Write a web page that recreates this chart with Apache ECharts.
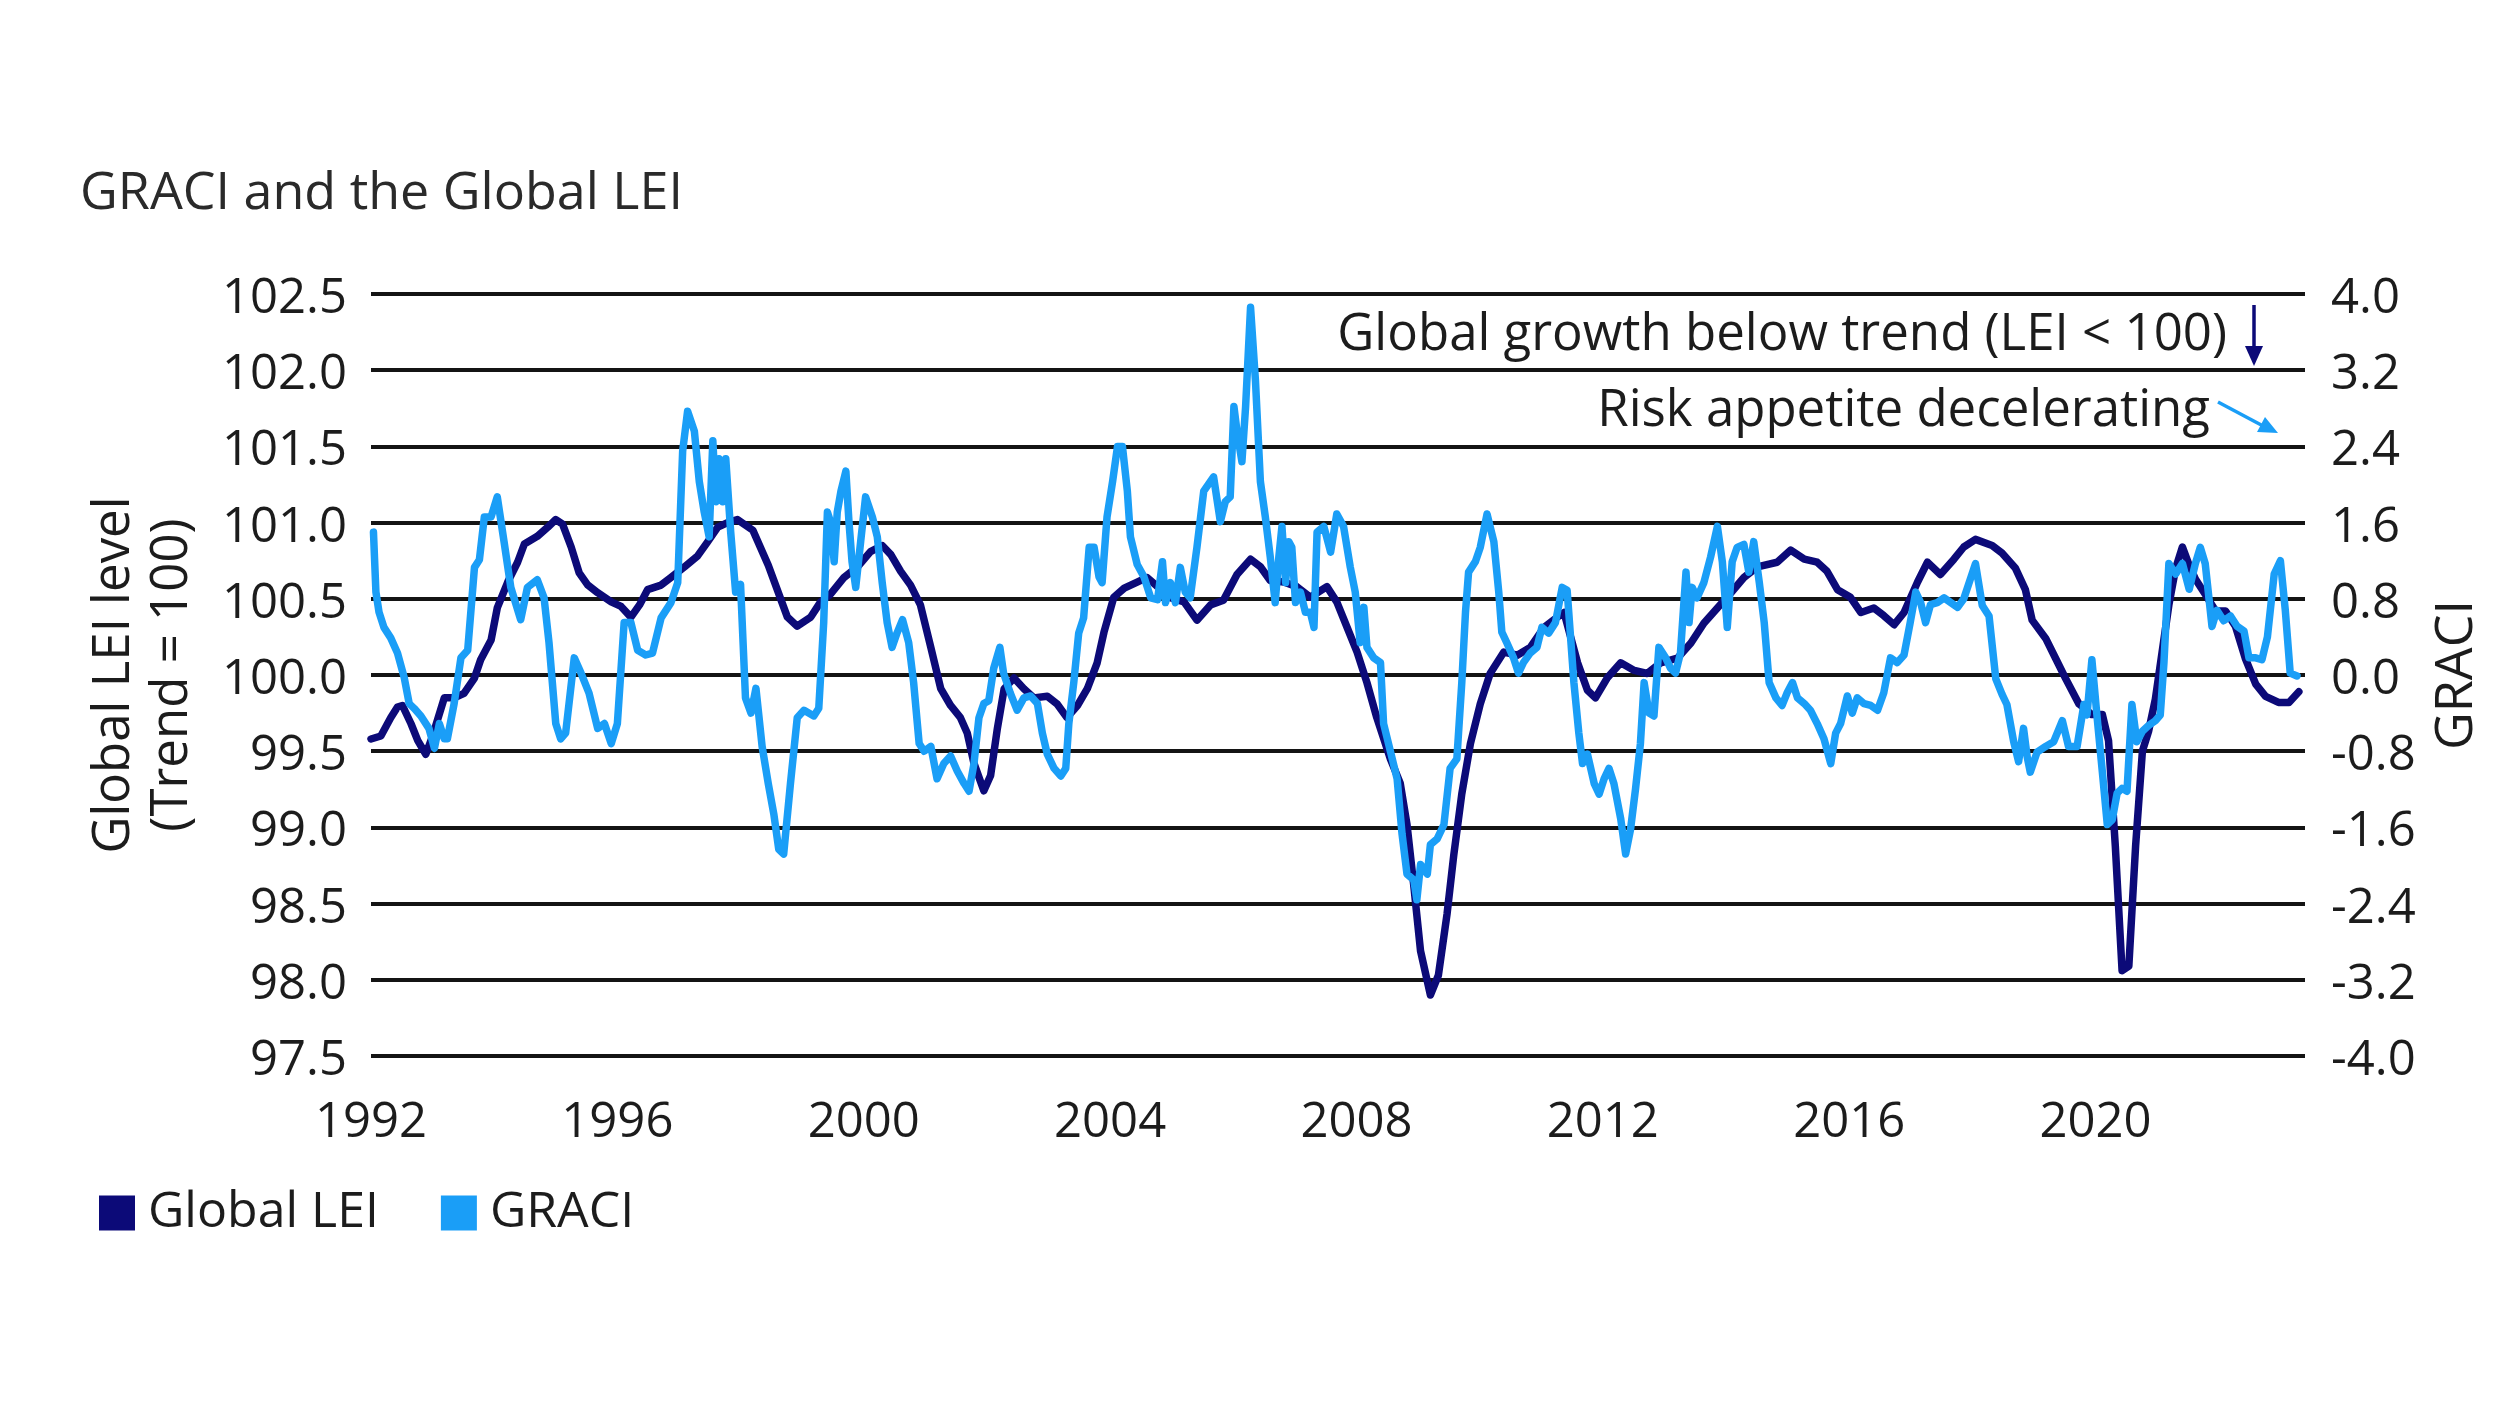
<!DOCTYPE html>
<html><head><meta charset="utf-8">
<script src="https://cdn.jsdelivr.net/npm/echarts@6/dist/echarts.min.js"></script>
<style>html,body{margin:0;padding:0;background:#fff}#c{width:2496px;height:1404px}</style>
</head><body><div id="c"></div>
<script>
// ---- Data (decimal year, value) ----
const seriesNames = ['Global LEI', 'GRACI'];
const xTickYears = [1992, 1996, 2000, 2004, 2008, 2012, 2016, 2020];

const leiPoints = [
[1992.0,99.58],[1992.16,99.60],[1992.32,99.72],[1992.43,99.79],[1992.51,99.80],[1992.65,99.68],[1992.76,99.57],[1992.89,99.48],
[1993.0,99.60],[1993.19,99.85],[1993.35,99.85],[1993.51,99.88],[1993.68,99.98],[1993.78,100.10],[1993.95,100.23],
[1994.05,100.44],[1994.22,100.61],[1994.38,100.74],[1994.49,100.86],[1994.7,100.91],[1994.87,100.97],
[1995.0,101.02],[1995.11,100.99],[1995.25,100.84],[1995.38,100.67],[1995.52,100.59],[1995.68,100.54],[1995.9,100.48],
[1996.06,100.45],[1996.22,100.38],[1996.36,100.46],[1996.49,100.56],[1996.71,100.59],[1996.87,100.64],
[1997.09,100.71],[1997.3,100.78],[1997.46,100.87],[1997.63,100.97],[1997.79,101.0],[1997.95,101.02],
[1998.2,100.95],[1998.45,100.72],[1998.76,100.38],[1998.92,100.32],
[1999.14,100.38],[1999.3,100.48],[1999.46,100.53],[1999.68,100.64],[1999.9,100.71],
[2000.11,100.81],[2000.3,100.85],[2000.44,100.79],[2000.6,100.68],[2000.76,100.59],[2000.92,100.46],
[2001.09,100.18],[2001.25,99.91],[2001.41,99.80],[2001.57,99.72],[2001.68,99.62],[2001.79,99.42],[2001.95,99.24],
[2002.06,99.34],[2002.17,99.65],[2002.28,99.91],[2002.44,99.98],[2002.6,99.91],[2002.76,99.85],[2002.98,99.86],
[2003.14,99.81],[2003.3,99.72],[2003.47,99.80],[2003.63,99.91],[2003.79,100.08],[2003.9,100.28],
[2004.06,100.51],[2004.23,100.57],[2004.44,100.61],[2004.6,100.64],[2004.77,100.58],[2004.95,100.51],
[2005.2,100.48],[2005.41,100.36],[2005.63,100.46],[2005.84,100.49],
[2006.06,100.66],[2006.28,100.76],[2006.44,100.71],[2006.6,100.62],[2006.82,100.61],
[2007.03,100.58],[2007.25,100.51],[2007.52,100.58],[2007.68,100.48],[2007.85,100.31],
[2008.01,100.15],[2008.17,99.95],[2008.33,99.72],[2008.55,99.45],[2008.71,99.29],[2008.82,99.02],[2008.93,98.62],
[2009.04,98.19],[2009.2,97.90],[2009.33,98.03],[2009.47,98.43],[2009.58,98.82],[2009.71,99.22],[2009.85,99.55],
[2010.01,99.81],[2010.17,100.01],[2010.39,100.15],[2010.61,100.13],[2010.82,100.18],
[2011.04,100.31],[2011.26,100.38],[2011.37,100.41],[2011.59,100.08],[2011.75,99.90],[2011.88,99.85],
[2012.07,99.98],[2012.29,100.08],[2012.51,100.03],[2012.72,100.01],[2012.94,100.08],
[2013.21,100.11],[2013.43,100.21],[2013.64,100.34],[2013.86,100.44],
[2014.08,100.54],[2014.29,100.64],[2014.51,100.71],[2014.83,100.74],
[2015.05,100.82],[2015.27,100.76],[2015.48,100.74],[2015.64,100.68],[2015.81,100.56],
[2016.02,100.51],[2016.19,100.41],[2016.4,100.44],[2016.56,100.39],[2016.73,100.33],[2016.89,100.41],
[2017.11,100.61],[2017.27,100.74],[2017.48,100.66],[2017.7,100.76],[2017.86,100.84],
[2018.05,100.89],[2018.32,100.85],[2018.48,100.80],[2018.7,100.70],[2018.86,100.56],[2018.97,100.36],
[2019.19,100.24],[2019.35,100.11],[2019.51,99.98],[2019.73,99.81],[2019.94,99.74],
[2020.11,99.74],[2020.21,99.57],[2020.32,98.88],[2020.43,98.06],[2020.54,98.09],[2020.65,98.88],[2020.76,99.50],[2020.86,99.63],[2020.97,99.84],
[2021.08,100.15],[2021.19,100.46],[2021.3,100.70],[2021.41,100.84],[2021.52,100.72],[2021.62,100.63],[2021.78,100.53],[2021.95,100.42],
[2022.11,100.42],[2022.27,100.32],[2022.43,100.11],[2022.6,99.94],[2022.76,99.86],[2022.97,99.82],
[2023.14,99.82],[2023.3,99.89]
];

const graciPoints = [
[1992.04,1.50],[1992.08,0.87],[1992.13,0.66],[1992.21,0.50],[1992.32,0.39],[1992.43,0.23],[1992.54,-0.03],[1992.62,-0.30],[1992.7,-0.35],[1992.81,-0.43],[1992.94,-0.56],
[1993.03,-0.77],[1993.11,-0.51],[1993.19,-0.67],[1993.24,-0.67],[1993.35,-0.30],[1993.46,0.18],[1993.57,0.26],[1993.68,1.13],[1993.76,1.21],[1993.84,1.66],[1993.95,1.66],
[1994.05,1.87],[1994.16,1.40],[1994.27,0.92],[1994.43,0.58],[1994.54,0.92],[1994.7,1.0],[1994.81,0.81],[1994.89,0.34],
[1995.0,-0.51],[1995.08,-0.67],[1995.16,-0.61],[1995.3,0.18],[1995.41,0.02],[1995.54,-0.19],[1995.68,-0.56],[1995.79,-0.51],[1995.9,-0.72],
[1996.0,-0.51],[1996.11,0.55],[1996.22,0.55],[1996.33,0.26],[1996.46,0.21],[1996.57,0.23],[1996.71,0.60],[1996.87,0.76],[1996.98,0.97],
[1997.06,2.35],[1997.14,2.77],[1997.25,2.56],[1997.33,2.03],[1997.41,1.71],[1997.49,1.45],[1997.55,2.46],[1997.6,1.82],[1997.65,2.27],[1997.71,1.82],[1997.76,2.27],[1997.84,1.50],[1997.92,0.87],
[1998.0,0.95],[1998.08,-0.24],[1998.17,-0.40],[1998.25,-0.14],[1998.35,-0.75],[1998.45,-1.14],[1998.54,-1.46],[1998.62,-1.83],[1998.7,-1.88],[1998.81,-1.14],[1998.92,-0.45],
[1999.03,-0.37],[1999.19,-0.43],[1999.27,-0.35],[1999.35,0.55],[1999.41,1.71],[1999.46,1.61],[1999.52,1.19],[1999.57,1.71],[1999.63,1.93],[1999.71,2.14],[1999.76,1.61],[1999.81,1.19],[1999.87,0.92],[1999.95,1.40],
[2000.03,1.87],[2000.14,1.66],[2000.22,1.45],[2000.3,0.97],[2000.38,0.55],[2000.46,0.29],[2000.54,0.44],[2000.63,0.58],[2000.73,0.34],[2000.81,-0.08],[2000.9,-0.72],[2000.98,-0.80],
[2001.09,-0.75],[2001.19,-1.09],[2001.3,-0.93],[2001.41,-0.85],[2001.52,-1.01],[2001.63,-1.14],[2001.71,-1.22],[2001.79,-0.93],[2001.87,-0.45],[2001.95,-0.30],
[2002.03,-0.27],[2002.11,0.07],[2002.21,0.29],[2002.27,0.02],[2002.38,-0.19],[2002.49,-0.37],[2002.6,-0.24],[2002.71,-0.22],[2002.82,-0.30],[2002.9,-0.61],[2002.98,-0.83],
[2003.09,-0.98],[2003.2,-1.06],[2003.28,-0.98],[2003.33,-0.51],[2003.41,-0.08],[2003.49,0.44],[2003.57,0.60],[2003.66,1.34],[2003.74,1.34],[2003.82,1.03],[2003.87,0.97],[2003.95,1.66],
[2004.04,2.03],[2004.12,2.40],[2004.2,2.40],[2004.28,1.93],[2004.33,1.45],[2004.44,1.16],[2004.55,1.03],[2004.66,0.81],[2004.77,0.79],[2004.85,1.19],[2004.9,0.76],[2004.98,0.97],
[2005.06,0.76],[2005.14,1.13],[2005.22,0.87],[2005.3,0.81],[2005.41,1.34],[2005.52,1.93],[2005.68,2.08],[2005.79,1.61],[2005.87,1.82],[2005.95,1.87],
[2006.01,2.82],[2006.06,2.56],[2006.14,2.24],[2006.2,2.82],[2006.28,3.86],[2006.36,3.09],[2006.44,2.03],[2006.52,1.66],[2006.6,1.24],[2006.68,0.76],[2006.74,1.24],[2006.79,1.56],[2006.85,0.97],[2006.9,1.40],[2006.95,1.34],
[2007.01,0.76],[2007.09,0.87],[2007.17,0.66],[2007.25,0.66],[2007.31,0.50],[2007.36,1.50],[2007.47,1.56],[2007.58,1.29],[2007.68,1.69],[2007.79,1.56],[2007.9,1.13],[2007.98,0.87],
[2008.06,0.34],[2008.12,0.71],[2008.17,0.29],[2008.28,0.18],[2008.39,0.13],[2008.44,-0.51],[2008.55,-0.80],[2008.66,-1.09],[2008.74,-1.67],[2008.82,-2.09],[2008.93,-2.15],[2008.98,-2.36],
[2009.04,-1.99],[2009.15,-2.09],[2009.2,-1.78],[2009.31,-1.72],[2009.42,-1.57],[2009.52,-0.98],[2009.63,-0.88],[2009.71,-0.08],[2009.77,0.66],[2009.82,1.08],[2009.93,1.19],
[2010.01,1.34],[2010.12,1.69],[2010.23,1.40],[2010.31,0.87],[2010.36,0.45],[2010.44,0.34],[2010.55,0.18],[2010.63,0.02],[2010.71,0.13],[2010.82,0.23],[2010.93,0.29],
[2011.01,0.50],[2011.12,0.44],[2011.23,0.55],[2011.34,0.92],[2011.42,0.89],[2011.53,-0.08],[2011.61,-0.61],[2011.67,-0.93],[2011.75,-0.83],[2011.86,-1.14],[2011.94,-1.25],
[2012.02,-1.09],[2012.1,-0.98],[2012.18,-1.14],[2012.29,-1.51],[2012.37,-1.88],[2012.45,-1.62],[2012.53,-1.20],[2012.61,-0.72],[2012.67,-0.08],[2012.75,-0.40],[2012.83,-0.43],[2012.91,0.29],
[2013.02,0.18],[2013.1,0.07],[2013.18,0.02],[2013.26,0.23],[2013.35,1.08],[2013.4,0.55],[2013.45,0.92],[2013.53,0.81],[2013.64,0.97],[2013.75,1.24],[2013.86,1.56],[2013.94,1.19],
[2014.02,0.50],[2014.1,1.19],[2014.18,1.34],[2014.29,1.37],[2014.37,1.08],[2014.45,1.40],[2014.54,0.97],[2014.62,0.55],[2014.7,-0.08],[2014.81,-0.24],[2014.91,-0.32],[2014.99,-0.19],
[2015.08,-0.08],[2015.16,-0.24],[2015.27,-0.30],[2015.37,-0.37],[2015.48,-0.51],[2015.59,-0.67],[2015.7,-0.93],[2015.78,-0.61],[2015.86,-0.51],[2015.97,-0.22],
[2016.05,-0.40],[2016.13,-0.24],[2016.24,-0.30],[2016.35,-0.32],[2016.46,-0.37],[2016.56,-0.19],[2016.67,0.18],[2016.78,0.13],[2016.89,0.21],[2016.99,0.55],
[2017.08,0.87],[2017.16,0.76],[2017.24,0.55],[2017.32,0.74],[2017.43,0.76],[2017.54,0.81],[2017.65,0.76],[2017.76,0.71],[2017.86,0.80],
[2018.05,1.17],[2018.16,0.73],[2018.27,0.62],[2018.38,-0.04],[2018.48,-0.20],[2018.56,-0.31],[2018.67,-0.70],[2018.75,-0.91],[2018.83,-0.56],[2018.89,-0.86],[2018.94,-1.02],
[2019.05,-0.81],[2019.19,-0.75],[2019.32,-0.70],[2019.46,-0.48],[2019.56,-0.75],[2019.7,-0.75],[2019.81,-0.31],[2019.86,-0.42],[2019.94,0.16],
[2020.03,-0.48],[2020.11,-1.02],[2020.19,-1.57],[2020.27,-1.52],[2020.35,-1.24],[2020.43,-1.19],[2020.51,-1.22],[2020.59,-0.31],[2020.67,-0.70],[2020.76,-0.59],[2020.86,-0.53],[2020.97,-0.48],
[2021.05,-0.42],[2021.11,0.13],[2021.19,1.17],[2021.3,1.06],[2021.41,1.17],[2021.52,0.90],[2021.62,1.17],[2021.7,1.34],[2021.78,1.17],[2021.89,0.51],[2021.97,0.68],
[2022.08,0.57],[2022.19,0.62],[2022.3,0.51],[2022.41,0.46],[2022.49,0.18],[2022.6,0.18],[2022.7,0.16],[2022.79,0.40],[2022.9,1.06],
[2023.0,1.20],[2023.08,0.68],[2023.16,0.02],[2023.27,-0.01]
];

const leftAxis = {min: 97.5, max: 102.5, step: 0.5};
const rightAxis = {min: -4.0, max: 4.0, step: 0.8};
const xRange = {min: 1992, max: 2023.4, step: 4};

// ---- Styling ----
const FONT = '"Open Sans"';
const NAVY = '#0c0a78';
const LIGHT = '#1a9ef7';
const TXT = '#1c1c1c';

const chart = echarts.init(document.getElementById('c'), null, {renderer: 'canvas'});
const fmt1 = v => (Math.abs(v) < 1e-9 ? 0 : v).toFixed(1);

chart.setOption({
  animation: false,
  backgroundColor: '#ffffff',
  textStyle: {fontFamily: FONT},
  grid: {left: 371, right: 191, top: 294, bottom: 348, containLabel: false},
  legend: {
    left: 94, top: 1183,
    itemWidth: 36, itemHeight: 35, itemGap: 62,
    icon: 'rect',
    data: seriesNames,
    textStyle: {fontFamily: FONT, fontSize: 50, color: TXT, padding: [0, 0, 0, 8]}
  },
  xAxis: {
    type: 'value', min: xRange.min, max: xRange.max, interval: xRange.step,
    axisLine: {show: false}, axisTick: {show: false}, splitLine: {show: false},
    axisLabel: {
      fontFamily: FONT, fontSize: 49, color: TXT, margin: 43,
      showMaxLabel: false,
      formatter: v => (xTickYears.indexOf(Math.round(v)) >= 0 ? String(Math.round(v)) : '')
    }
  },
  yAxis: [
    {
      type: 'value', min: leftAxis.min, max: leftAxis.max, interval: leftAxis.step,
      position: 'left',
      axisLine: {show: false}, axisTick: {show: false},
      splitLine: {show: true, lineStyle: {color: '#141414', width: 4}},
      axisLabel: {fontFamily: FONT, fontSize: 49, color: TXT, margin: 24, verticalAlign: 'top', lineHeight: 10, formatter: fmt1},
      name: 'Global LEI level\n(Trend = 100)',
      nameLocation: 'middle', nameRotate: 90, nameGap: 170,
      nameTextStyle: {fontFamily: FONT, fontSize: 51, color: TXT, lineHeight: 58, align: 'center'}
    },
    {
      type: 'value', min: rightAxis.min, max: rightAxis.max, interval: rightAxis.step,
      position: 'right',
      axisLine: {show: false}, axisTick: {show: false}, splitLine: {show: false},
      axisLabel: {fontFamily: FONT, fontSize: 49, color: TXT, margin: 26, verticalAlign: 'top', lineHeight: 10, formatter: fmt1},
      name: 'GRACI',
      nameLocation: 'middle', nameRotate: 90, nameGap: 126,
      nameTextStyle: {fontFamily: FONT, fontSize: 52, color: TXT}
    }
  ],
  series: [
    {
      name: seriesNames[0], type: 'line', yAxisIndex: 0,
      data: leiPoints, showSymbol: false, symbol: 'none',
      color: NAVY,
      lineStyle: {color: NAVY, width: 7.5, join: 'round', cap: 'round'},
      z: 2
    },
    {
      name: seriesNames[1], type: 'line', yAxisIndex: 1,
      data: graciPoints, showSymbol: false, symbol: 'none',
      color: LIGHT,
      lineStyle: {color: LIGHT, width: 7.5, join: 'round', cap: 'round'},
      z: 3
    }
  ],
  graphic: [
    {type: 'text', left: 80, top: 168, style: {text: 'GRACI and the Global LEI', font: '52px ' + FONT, fill: '#2a2a2a'}},
    {type: 'text', z: 10, style: {x: 2227, y: 335, text: 'Global growth below trend (LEI < 100)', font: '51px ' + FONT, fill: TXT, textAlign: 'right', textVerticalAlign: 'middle'}},
    {type: 'text', z: 10, style: {x: 2210, y: 411, text: 'Risk appetite decelerating', font: '51px ' + FONT, fill: TXT, textAlign: 'right', textVerticalAlign: 'middle'}},
    {type: 'line', z: 10, shape: {x1: 2254, y1: 305, x2: 2254, y2: 352}, style: {stroke: NAVY, lineWidth: 3.5}},
    {type: 'polygon', z: 10, shape: {points: [[2245, 346], [2263, 346], [2254, 366]]}, style: {fill: NAVY}},
    {type: 'line', z: 10, shape: {x1: 2218, y1: 402, x2: 2265, y2: 427}, style: {stroke: LIGHT, lineWidth: 3.5}},
    {type: 'polygon', z: 10, shape: {points: [[2257, 432], [2265, 417], [2278, 433]]}, style: {fill: LIGHT}}
  ]
});
</script>
</body></html>
